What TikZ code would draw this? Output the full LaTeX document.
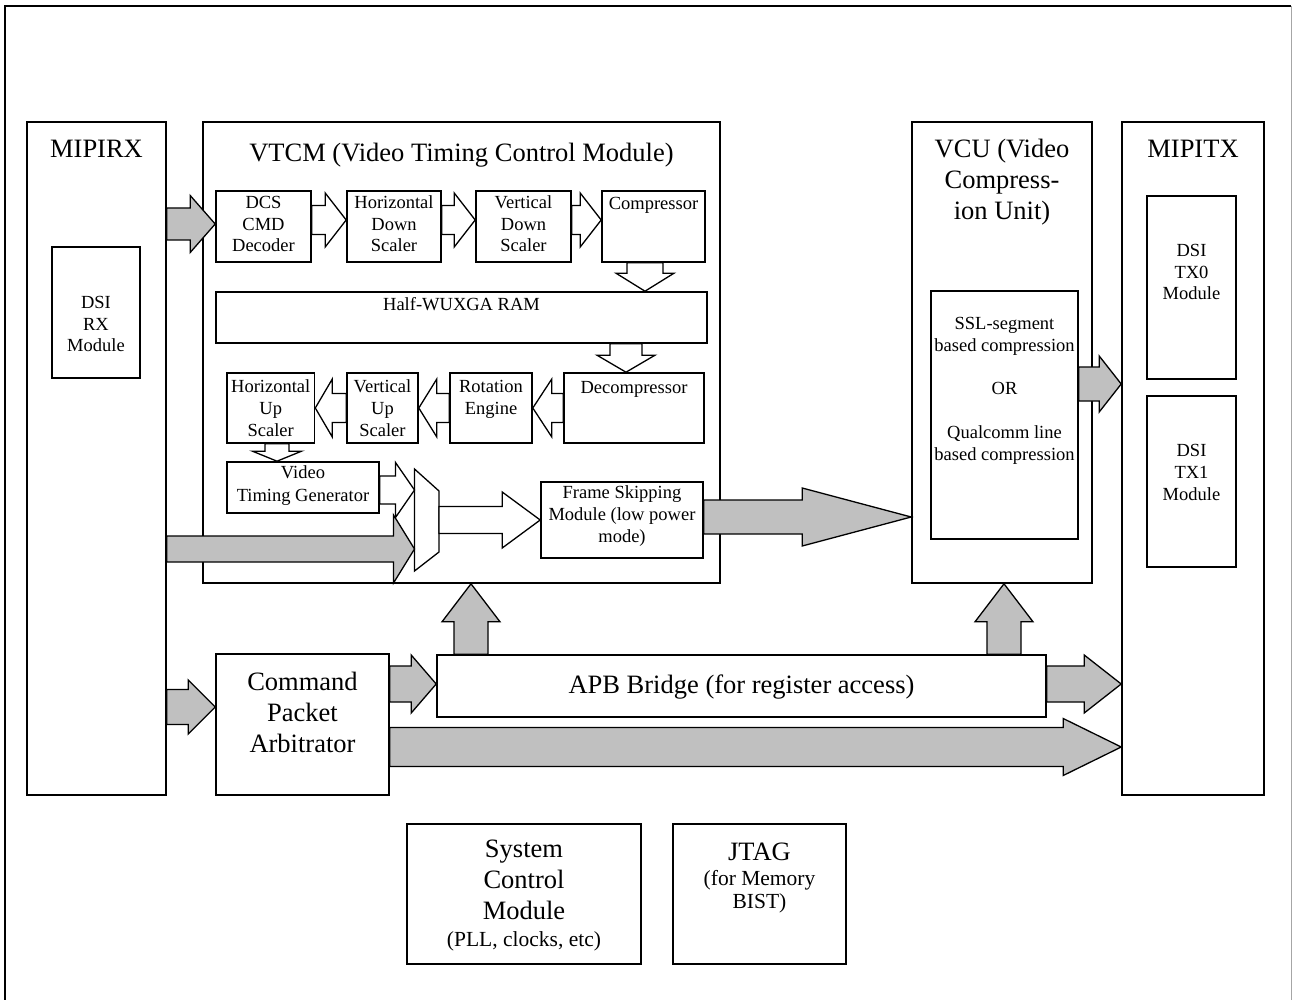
\documentclass[tikz,border=0pt]{standalone}
\usepackage{fontspec}
\setmainfont{Liberation Serif}
\usetikzlibrary{calc,fit,positioning}
\definecolor{arrgray}{RGB}{192,192,192}
\newcommand{\bigf}{\fontsize{26.5}{31}\selectfont}
\newcommand{\smallf}{\fontsize{18.5}{21.7}\selectfont}
\newcommand{\medf}{\fontsize{21.5}{23}\selectfont}
% block arrow: [fill]{tail}{tip}{shaft half}{head half}{head length}
\newcommand{\barrow}[6][white]{%
 \path (#2) coordinate (bt) (#3) coordinate (bh);
 \coordinate (bb) at ($(bh)!#6pt!(bt)$);
 \draw[arrline, fill=#1] ($(bt)!#4pt!90:(bh)$) -- ($(bb)!#4pt!90:(bh)$)
 -- ($(bb)!#5pt!90:(bh)$) -- (bh) -- ($(bb)!#5pt!-90:(bh)$)
 -- ($(bb)!#4pt!-90:(bh)$) -- ($(bt)!#4pt!-90:(bh)$) -- cycle;}
\begin{document}
\begin{tikzpicture}[x=1pt, y=-1pt,
blk/.style={draw, line width=1.6pt, inner sep=0pt},
txt/.style={inner sep=0pt, align=center, anchor=base},
stxt/.style={txt, font=\smallf},
btxt/.style={txt, font=\bigf},
arrline/.style={draw=black, line width=1.3pt, line join=miter}
]
\useasboundingbox (0,0) rectangle (1293,1000);
\draw[line width=1.6pt] (5,1010) -- (5,6) -- (1291,6);
\draw[line width=0.8pt, black!35] (1291,6) -- (1291,1010);

% outer blocks
\node[blk, fit={(27,122) (166,795)}] (mipirx) {};
\node[blk, fit={(52,247) (140,378)}] (dsirx) {};
\node[blk, fit={(203,122) (720,583)}] (vtcm) {};
\node[blk, fit={(912,122) (1092,583)}] (vcu) {};
\node[blk, fit={(931,291) (1078,539)}] (cmpr) {};
\node[blk, fit={(1122,122) (1264,795)}] (mipitx) {};
\node[blk, fit={(1147,196) (1236,379)}] (tx0) {};
\node[blk, fit={(1147,396) (1236,567)}] (tx1) {};

% VTCM inside
\node[blk, fit={(216,191) (311,262)}] (dcs) {};
\node[blk, fit={(347,191) (441,262)}] (hds) {};
\node[blk, fit={(476,191) (571,262)}] (vds) {};
\node[blk, fit={(602,191) (705,262)}] (comp) {};
\node[blk, fit={(216,292) (707,343)}] (ram) {};
\node[blk, fit={(564,373) (704,443)}] (decomp) {};
\node[blk, fit={(450,373) (532,443)}] (rot) {};
\node[blk, fit={(347,373) (418,443)}] (vus) {};
\node[blk, fit={(227,373) (314.5,443)}] (hus) {};
\node[blk, fit={(227,462) (379,513)}] (vtg) {};
\node[blk, fit={(541,482) (703,558)}] (fsm) {};
\draw[line width=1.3pt] (414.5,469) coordinate (muxnw) -- (439,491) coordinate (muxne)
 -- (439,552) -- (414.5,571) -- cycle;

% lower blocks
\node[blk, fit={(437,655) (1046,717)}] (apb) {};
\node[blk, fit={(216,654) (389,795)}] (cpa) {};
\node[blk, fit={(407,824) (641,964)}] (scm) {};
\node[blk, fit={(673,824) (846,964)}] (jtag) {};

% texts (anchored at the baseline of the last line)
\node[btxt] (mipirxt) at (mipirx.center |- 0,158) {MIPIRX};
\node[stxt] (dsirxt) at (dsirx.center |- 0,352) {DSI\\RX\\Module};
\node[btxt] (vtcmt) at (vtcm.center |- 0,161.5) {VTCM (Video Timing Control Module)};
\node[stxt] (dcst) at (dcs.center |- 0,252) {DCS\\CMD\\Decoder};
\node[stxt] (hdst) at (hds.center |- 0,252) {Horizontal\\Down\\Scaler};
\node[stxt] (vdst) at (vds.center |- 0,252) {Vertical\\Down\\Scaler};
\node[stxt] (compt) at (comp.center |- 0,210) {Compressor};
\node[stxt] (ramt) at (ram.center |- 0,310) {Half-WUXGA RAM};
\node[stxt] (decompt) at (decomp.center |- 0,393) {Decompressor};
\node[stxt] (rott) at (rot.center |- 0,414) {Rotation\\Engine};
\node[stxt] (vust) at (vus.center |- 0,436) {Vertical\\Up\\Scaler};
\node[stxt] (hust) at (hus.center |- 0,436) {Horizontal\\Up\\Scaler};
\node[stxt] (vtgt) at (vtg.center |- 0,501.7) {Video\\[2pt]Timing Generator};
\node[stxt] (fsmt) at (fsm.center |- 0,542) {Frame Skipping\\Module (low power\\mode)};
\node[btxt] (vcut) at (vcu.center |- 0,220) {VCU (Video\\Compress-\\ion Unit)};
\node[stxt] (cmprt) at (cmpr.center |- 0,460)
 {SSL-segment\\based compression\\[21.7pt]OR\\[21.7pt]Qualcomm line\\based compression};
\node[btxt] (mipitxt) at (mipitx.center |- 0,158) {MIPITX};
\node[stxt] (tx0t) at (tx0.center |- 0,300) {DSI\\TX0\\Module};
\node[stxt] (tx1t) at (tx1.center |- 0,500) {DSI\\TX1\\Module};
\node[btxt] (apbt) at (apb.center |- 0,693) {APB Bridge (for register access)};
\node[btxt] (cpat) at (cpa.center |- 0,752) {Command\\Packet\\Arbitrator};
\node[btxt] (scmt) at (scm.center |- 0,946.7)
 {System\\Control\\Module\\[-4pt]{\medf (PLL, clocks, etc)}};
\node[txt, font=\medf] (jtagt) at (jtag.center |- 0,908) {{\bigf JTAG}\\[2pt](for Memory\\BIST)};

% hollow arrows
\barrow{dcs.east |- 0,220}{hds.west |- 0,220}{14.5}{27}{21}
\barrow{hds.east |- 0,220}{vds.west |- 0,220}{14.5}{27}{21}
\barrow{vds.east |- 0,220}{comp.west |- 0,220}{14.5}{27}{21}
\barrow{comp.south -| 645,0}{ram.north -| 645,0}{18}{29}{18}
\barrow{ram.south -| 626,0}{decomp.north -| 626,0}{16}{29}{17}
\barrow{decomp.west |- 0,408}{rot.east |- 0,408}{14.5}{29}{19}
\barrow{rot.west |- 0,408}{vus.east |- 0,408}{14.5}{29}{18}
\barrow{vus.west |- 0,408}{hus.east |- 0,408}{14.5}{29}{17}
\barrow{hus.south -| 277,0}{vtg.north -| 277,0}{12}{24.5}{10}
\barrow{vtg.east |- 0,490}{muxnw |- 0,490}{14}{27.5}{19}
\barrow{muxne |- 0,520}{fsm.west |- 0,520}{13.5}{28}{38}

% gray arrows
\barrow[arrgray]{mipirx.east |- 0,224}{dcs.west |- 0,224}{16}{28.5}{25}
\barrow[arrgray]{mipirx.east |- 0,549}{muxnw |- 0,549}{13}{34}{21}
\barrow[arrgray]{fsm.east |- 0,517}{vcu.west |- 0,517}{17}{29}{109}
\barrow[arrgray]{cmpr.east |- 0,384}{mipitx.west |- 0,384}{17}{28}{22}
\barrow[arrgray]{apb.north -| 471,0}{vtcm.south -| 471,0}{17}{29}{38}
\barrow[arrgray]{apb.north -| 1004,0}{vcu.south -| 1004,0}{17}{29}{38}
\barrow[arrgray]{mipirx.east |- 0,707}{cpa.west |- 0,707}{17.5}{27}{27}
\barrow[arrgray]{cpa.east |- 0,684}{apb.west |- 0,684}{18}{29}{25}
\barrow[arrgray]{apb.east |- 0,684}{mipitx.west |- 0,684}{18}{29}{37}
\barrow[arrgray]{cpa.east |- 0,747}{mipitx.west |- 0,747}{19.5}{28.5}{58}

\end{tikzpicture}
\end{document}
